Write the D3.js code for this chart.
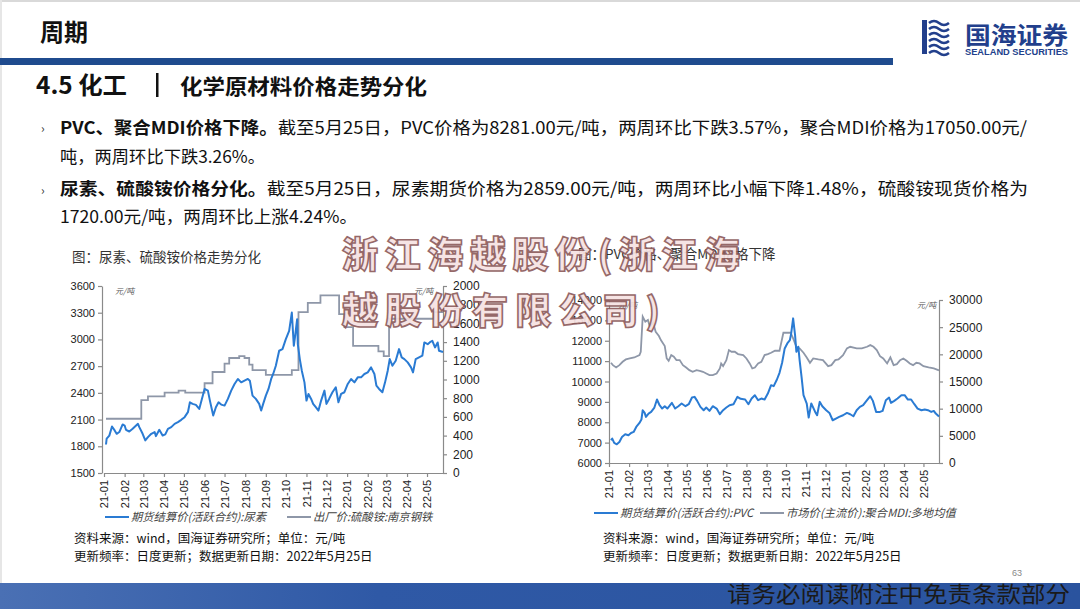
<!DOCTYPE html>
<html><head><meta charset="utf-8">
<script src="https://cdn.jsdelivr.net/npm/d3@7"></script>
<style>
html,body{margin:0;padding:0;background:#fff;}
svg{display:block;font-family:"Noto Sans CJK SC","Noto Sans",sans-serif;}
</style></head>
<body><svg id="c" width="1080" height="609"></svg>
<script>
// ---------- data ----------
const ureaDates = ["2021-01-04","2021-01-05","2021-01-09","2021-01-13","2021-01-17","2021-01-20","2021-01-24","2021-01-29","2021-02-01","2021-02-03","2021-02-08","2021-02-13","2021-02-21","2021-02-23","2021-02-28","2021-03-04","2021-03-08","2021-03-13","2021-03-18","2021-03-20","2021-03-25","2021-03-30","2021-04-03","2021-04-07","2021-04-12","2021-04-17","2021-04-22","2021-04-27","2021-05-02","2021-05-07","2021-05-10","2021-05-14","2021-05-19","2021-05-24","2021-05-28","2021-06-01","2021-06-06","2021-06-09","2021-06-14","2021-06-18","2021-06-22","2021-06-26","2021-07-01","2021-07-06","2021-07-11","2021-07-16","2021-07-21","2021-07-26","2021-07-31","2021-08-05","2021-08-08","2021-08-12","2021-08-17","2021-08-22","2021-08-25","2021-08-28","2021-09-01","2021-09-05","2021-09-09","2021-09-12","2021-09-16","2021-09-21","2021-09-26","2021-10-01","2021-10-06","2021-10-10","2021-10-13","2021-10-15","2021-10-18","2021-10-19","2021-10-22","2021-10-25","2021-10-29","2021-11-01","2021-11-04","2021-11-08","2021-11-11","2021-11-15","2021-11-19","2021-11-23","2021-11-28","2021-12-01","2021-12-05","2021-12-10","2021-12-15","2021-12-19","2021-12-23","2021-12-28","2022-01-02","2022-01-07","2022-01-12","2022-01-17","2022-01-22","2022-01-27","2022-02-01","2022-02-06","2022-02-11","2022-02-14","2022-02-18","2022-02-23","2022-02-27","2022-03-03","2022-03-06","2022-03-10","2022-03-15","2022-03-20","2022-03-24","2022-03-28","2022-04-02","2022-04-07","2022-04-10","2022-04-14","2022-04-19","2022-04-24","2022-04-27","2022-05-02","2022-05-05","2022-05-09","2022-05-13","2022-05-17","2022-05-19","2022-05-25"];
const ureaValues = [1820,1885,1920,2022,1978,1940,1960,2045,2033,1985,1966,1996,2052,2015,1940,1866,1903,1940,1960,1914,1985,1921,1933,1996,2015,2052,2071,2097,2127,2183,2294,2276,2265,2220,2332,2444,2425,2313,2145,2239,2294,2268,2257,2332,2425,2500,2556,2518,2537,2556,2537,2369,2332,2276,2201,2276,2369,2444,2556,2612,2705,2873,2891,3003,3097,3302,2929,3041,3227,2947,2779,2649,2518,2313,2388,2332,2276,2239,2201,2313,2425,2276,2332,2407,2463,2294,2388,2407,2500,2556,2518,2574,2574,2612,2630,2686,2612,2481,2444,2407,2518,2649,2779,2705,2761,2891,2798,2779,2742,2686,2630,2779,2798,2817,2966,2947,2966,2985,2910,2966,2873,2859];

const amsDates = ["2021-01-04","2021-02-26","2021-03-08","2021-04-02","2021-04-23","2021-05-03","2021-06-01","2021-06-13","2021-07-01","2021-07-08","2021-07-23","2021-07-31","2021-08-07","2021-08-12","2021-09-01","2021-10-10","2021-10-20","2021-11-03","2021-11-22","2021-12-20","2021-12-28","2022-01-10","2022-02-17","2022-02-25","2022-03-05","2022-05-11","2022-05-25"];
const amsValues = [580,780,820,860,880,860,960,1080,1170,1230,1250,1230,1160,1100,1050,1100,1720,1820,1900,1700,1560,1360,1300,1250,1650,1720,1720];

const pvcDates = ["2021-01-04","2021-01-06","2021-01-09","2021-01-13","2021-01-17","2021-01-21","2021-01-26","2021-01-31","2021-02-04","2021-02-08","2021-02-12","2021-02-17","2021-02-20","2021-02-22","2021-02-25","2021-02-27","2021-03-03","2021-03-07","2021-03-12","2021-03-16","2021-03-20","2021-03-24","2021-03-28","2021-04-01","2021-04-04","2021-04-08","2021-04-13","2021-04-18","2021-04-23","2021-04-29","2021-05-04","2021-05-09","2021-05-13","2021-05-17","2021-05-22","2021-05-27","2021-05-31","2021-06-05","2021-06-10","2021-06-16","2021-06-21","2021-06-26","2021-07-01","2021-07-06","2021-07-12","2021-07-18","2021-07-23","2021-07-30","2021-08-04","2021-08-09","2021-08-14","2021-08-19","2021-08-24","2021-08-29","2021-09-03","2021-09-08","2021-09-12","2021-09-17","2021-09-21","2021-09-25","2021-09-29","2021-10-03","2021-10-07","2021-10-09","2021-10-12","2021-10-15","2021-10-17","2021-10-20","2021-10-22","2021-10-25","2021-10-28","2021-11-02","2021-11-05","2021-11-09","2021-11-15","2021-11-18","2021-11-22","2021-11-26","2021-12-02","2021-12-07","2021-12-12","2021-12-17","2021-12-22","2021-12-28","2022-01-03","2022-01-08","2022-01-13","2022-01-18","2022-01-23","2022-01-28","2022-02-03","2022-02-08","2022-02-12","2022-02-17","2022-02-23","2022-02-27","2022-03-04","2022-03-09","2022-03-12","2022-03-17","2022-03-22","2022-03-28","2022-04-02","2022-04-07","2022-04-12","2022-04-17","2022-04-22","2022-04-28","2022-05-03","2022-05-08","2022-05-13","2022-05-17","2022-05-20","2022-05-25"];
const pvcValues = [7120,7197,6984,6918,7033,7279,7410,7361,7475,7525,7770,7967,8131,8590,8459,8262,8426,8508,8721,9115,8836,8672,8787,8672,8787,8951,8672,8787,8918,8787,8885,9213,9246,9049,8754,8590,8721,8557,8787,8672,8393,8590,8721,8836,8885,9246,9148,9115,8885,9164,9328,9082,9164,9115,9410,9820,9770,10098,10426,10918,11623,11869,12033,12361,13098,12279,11459,11705,11049,10230,9328,8918,8230,8918,8508,8344,9000,8787,8590,8459,8098,8180,8262,8344,8459,8393,8295,8590,8754,8836,9082,9279,9049,8508,8508,8557,9082,9213,8951,9049,9164,9328,9328,9115,9115,8885,8672,8590,8623,8590,8508,8557,8426,8281];

const mdiDates = ["2021-01-04","2021-01-07","2021-01-12","2021-01-17","2021-01-22","2021-01-27","2021-02-02","2021-02-09","2021-02-17","2021-02-19","2021-02-22","2021-02-26","2021-03-02","2021-03-05","2021-03-10","2021-03-14","2021-03-19","2021-03-22","2021-03-28","2021-03-31","2021-04-03","2021-04-07","2021-04-11","2021-04-15","2021-04-20","2021-04-25","2021-04-30","2021-05-05","2021-05-10","2021-05-16","2021-05-21","2021-05-26","2021-05-31","2021-06-05","2021-06-10","2021-06-16","2021-06-21","2021-06-23","2021-06-26","2021-07-01","2021-07-05","2021-07-09","2021-07-14","2021-07-19","2021-07-27","2021-08-01","2021-08-06","2021-08-10","2021-08-14","2021-08-19","2021-08-24","2021-08-29","2021-09-03","2021-09-08","2021-09-14","2021-09-21","2021-09-27","2021-10-08","2021-10-12","2021-10-17","2021-10-22","2021-10-28","2021-11-02","2021-11-07","2021-11-12","2021-11-20","2021-11-27","2021-12-05","2021-12-10","2021-12-16","2021-12-21","2021-12-28","2022-01-03","2022-01-08","2022-01-18","2022-01-26","2022-02-03","2022-02-08","2022-02-13","2022-02-18","2022-02-23","2022-02-28","2022-03-06","2022-03-11","2022-03-16","2022-03-21","2022-03-26","2022-03-31","2022-04-05","2022-04-10","2022-04-15","2022-04-20","2022-04-25","2022-05-01","2022-05-09","2022-05-17","2022-05-25"];
const mdiValues = [18444,18014,17583,18014,18628,19059,19243,19427,19858,20473,26928,26006,26313,25084,25822,24162,23362,22625,21518,19243,18813,19858,19550,18936,18936,18014,17583,17092,16784,17092,16969,16784,16477,16169,16169,16477,17399,18321,17829,18936,20780,20473,20473,20043,19858,19243,18321,17399,17583,18321,18628,19858,20043,20289,20657,20657,23977,23977,22932,21395,21088,20289,19427,18444,19243,19059,18936,17829,18014,18936,19059,19858,21088,21395,21088,21088,21395,21702,21395,20780,19673,19243,18321,19427,18014,18198,18936,19243,18813,18321,18014,18444,18321,17829,17583,17399,17050];

const ureaLeftTicks = [1500,1800,2100,2400,2700,3000,3300,3600];
const amsRightTicks = [0,200,400,600,800,1000,1200,1400,1600,1800,2000];
const pvcLeftTicks = [6000,7000,8000,9000,10000,11000,12000,13000,14000];
const mdiRightTicks = [0,5000,10000,15000,20000,25000,30000];

const legendLeft = ["期货结算价(活跃合约):尿素","出厂价:硫酸铵:南京钢铁"];
const legendRight = ["期货结算价(活跃合约):PVC","市场价(主流价):聚合MDI:多地均值"];
const chartTitles = ["图：尿素、硫酸铵价格走势分化","图：PVC价格、聚合MDI价格下降"];
const sourceLines = ["资料来源：wind，国海证券研究所；单位：元/吨","更新频率：日度更新；数据更新日期：2022年5月25日"];

// ---------- drawing ----------
const svg = d3.select("#c");
const parse = d3.timeParse("%Y-%m-%d");
const BLUE = "#2a7bd3", GRAY = "#8e97a8", AX = "#8a8a8a";
const tickFont = "Liberation Sans, Arial, sans-serif";

const defs = svg.append("defs");
const fg = defs.append("linearGradient").attr("id","foot").attr("x1","0").attr("x2","1").attr("y1","0").attr("y2","0");
fg.append("stop").attr("offset","0").attr("stop-color","#4a70b4");
fg.append("stop").attr("offset","0.35").attr("stop-color","#2f59a6");
fg.append("stop").attr("offset","1").attr("stop-color","#2a539e");

// top thin border
svg.append("rect").attr("x",0).attr("y",0).attr("width",1080).attr("height",2).attr("fill","#d9d9d9");
svg.append("rect").attr("x",0).attr("y",0).attr("width",2).attr("height",609).attr("fill","#e6e6e6");

// header
svg.append("text").attr("x",40).attr("y",41).attr("font-size",24).attr("font-weight",700).attr("fill","#111").text("周期");
svg.append("rect").attr("x",0).attr("y",58).attr("width",893).attr("height",7).attr("fill","#1f4b8e");

// logo
const logo = svg.append("g").attr("transform","translate(922,20)");
logo.append("rect").attr("x",0).attr("y",0).attr("width",5).attr("height",34).attr("fill","#223f8c");
[0,6,12,18,24,30].forEach((yy,i)=>{
  logo.append("path").attr("d",`M7,${yy+3} q5,-4 10,0 t10,0`).attr("fill","none").attr("stroke","#223f8c").attr("stroke-width",2.6);
});
logo.append("text").attr("x",43).attr("y",24).attr("font-size",24).attr("font-weight",700).attr("fill","#223f8c")
  .attr("textLength",103).attr("lengthAdjust","spacingAndGlyphs").text("国海证券");
logo.append("text").attr("x",43).attr("y",35).attr("font-size",9).attr("font-weight",700).attr("fill","#223f8c").attr("font-family","Liberation Sans, Arial")
  .attr("textLength",103).attr("lengthAdjust","spacingAndGlyphs").text("SEALAND SECURITIES");

// section title
svg.append("text").attr("x",36).attr("y",94).attr("font-size",24).attr("font-weight",700).attr("fill","#111")
  .attr("textLength",91).attr("lengthAdjust","spacingAndGlyphs").text("4.5 化工");
svg.append("rect").attr("x",156).attr("y",73).attr("width",2.5).attr("height",24).attr("fill","#111");
svg.append("text").attr("x",180).attr("y",94).attr("font-size",21).attr("font-weight",700).attr("fill","#111")
  .attr("textLength",247).attr("lengthAdjust","spacingAndGlyphs").text("化学原材料价格走势分化");

// bullets
function para(y, parts, len){
  const t = svg.append("text").attr("x",60).attr("y",y).attr("font-size",17.2).attr("fill","#111");
  if(len) t.attr("textLength",len).attr("lengthAdjust","spacingAndGlyphs");
  parts.forEach(p=>t.append("tspan").attr("font-weight",p[1]?700:400).text(p[0]));
  return t;
}
svg.append("text").attr("x",41).attr("y",133).attr("font-size",12).attr("fill","#333").text("›");
svg.append("text").attr("x",41).attr("y",195).attr("font-size",12).attr("fill","#333").text("›");
para(134,[["PVC、聚合MDI价格下降。",1],["截至5月25日，PVC价格为8281.00元/吨，两周环比下跌3.57%，聚合MDI价格为17050.00元/",0]],967);
para(163,[["吨，两周环比下跌3.26%。",0]],205);
para(195,[["尿素、硫酸铵价格分化。",1],["截至5月25日，尿素期货价格为2859.00元/吨，两周环比小幅下降1.48%，硫酸铵现货价格为",0]],968);
para(223,[["1720.00元/吨，两周环比上涨4.24%。",0]],297);

// chart helper
function drawChart(cfg){
  const g = svg.append("g");
  g.append("text").attr("x",cfg.titleX).attr("y",cfg.titleY).attr("font-size",13.5).attr("fill","#333").text(cfg.title);
  const x = d3.scaleTime().domain([parse("2021-01-01"),parse("2022-05-25")]).range([cfg.x0,cfg.x1]);
  const yL = d3.scaleLinear().domain([cfg.lTicks[0],cfg.lTicks[cfg.lTicks.length-1]]).range([cfg.yb,cfg.yt]);
  const yR = d3.scaleLinear().domain([cfg.rTicks[0],cfg.rTicks[cfg.rTicks.length-1]]).range([cfg.yb,cfg.yt]);

  const ax = g.append("g").attr("transform",`translate(0,${cfg.yb})`)
    .call(d3.axisBottom(x).ticks(d3.timeMonth.every(1)).tickFormat(d3.timeFormat("%y-%m")).tickSize(4).tickSizeOuter(0));
  ax.selectAll("text").attr("transform","rotate(-90)").attr("x",-7).attr("y",0).attr("dy","0.35em")
    .style("text-anchor","end").attr("font-size",11).attr("font-family",tickFont).attr("fill","#222");
  const al = g.append("g").attr("transform",`translate(${cfg.axL},0)`)
    .call(d3.axisLeft(yL).tickValues(cfg.lTicks).tickFormat(d3.format("d")).tickSize(4).tickSizeOuter(0));
  al.selectAll("text").attr("font-size",11).attr("font-family",tickFont).attr("fill","#222").attr("x",-7);
  const ar = g.append("g").attr("transform",`translate(${cfg.axR},0)`)
    .call(d3.axisRight(yR).tickValues(cfg.rTicks).tickFormat(d3.format("d")).tickSize(4).tickSizeOuter(0));
  ar.selectAll("text").attr("font-size",12).attr("font-family",tickFont).attr("fill","#222").attr("x",10);
  [ax,al,ar].forEach(a=>{a.selectAll("path,line").attr("stroke",AX).attr("stroke-width",1.2);});

  // units
  g.append("text").attr("x",cfg.uL).attr("y",cfg.yt+8).attr("font-size",8).attr("fill","#555").attr("font-style","italic").text("元/吨");
  g.append("text").attr("x",cfg.uR).attr("y",cfg.yt+8).attr("font-size",8).attr("fill","#555").attr("font-style","italic").text("元/吨");

  const rData = cfg.rDates.map((d,i)=>({d:parse(d),v:cfg.rVals[i]}));
  g.append("path").datum(rData).attr("fill","none").attr("stroke",GRAY).attr("stroke-width",1.8)
    .attr("d",d3.line().x(p=>x(p.d)).y(p=>yR(p.v)).curve(cfg.step?d3.curveStepAfter:d3.curveLinear));
  const lData = cfg.lDates.map((d,i)=>({d:parse(d),v:cfg.lVals[i]}));
  g.append("path").datum(lData).attr("fill","none").attr("stroke",BLUE).attr("stroke-width",2)
    .attr("stroke-linejoin","round").attr("d",d3.line().x(p=>x(p.d)).y(p=>yL(p.v)));

  // legend
  const lg = g.append("g");
  lg.append("line").attr("x1",cfg.lg[0]).attr("x2",cfg.lg[0]+24).attr("y1",cfg.lgY).attr("y2",cfg.lgY).attr("stroke",BLUE).attr("stroke-width",2);
  lg.append("text").attr("x",cfg.lg[0]+26).attr("y",cfg.lgY+4).attr("font-size",11.3).attr("fill","#444").attr("font-style","italic").text(cfg.legend[0]);
  lg.append("line").attr("x1",cfg.lg[1]).attr("x2",cfg.lg[1]+24).attr("y1",cfg.lgY).attr("y2",cfg.lgY).attr("stroke",GRAY).attr("stroke-width",2);
  lg.append("text").attr("x",cfg.lg[1]+26).attr("y",cfg.lgY+4).attr("font-size",11.3).attr("fill","#444").attr("font-style","italic").text(cfg.legend[1]);

  // source
  sourceLines.forEach((s,i)=>g.append("text").attr("x",cfg.srcX).attr("y",543+i*18).attr("font-size",12.5).attr("fill","#111").text(s));
}

drawChart({title:chartTitles[0],titleX:72,titleY:262,x0:104,x1:443,yb:473,yt:286,axL:102,axR:443,
  lTicks:ureaLeftTicks,rTicks:amsRightTicks,lDates:ureaDates,lVals:ureaValues,rDates:amsDates,rVals:amsValues,step:true,
  uL:115,uR:414,legend:legendLeft,lg:[105,287],lgY:517,srcX:74});
drawChart({title:chartTitles[1],titleX:578,titleY:259,x0:609,x1:939,yb:463,yt:300,axL:609,axR:939,
  lTicks:pvcLeftTicks,rTicks:mdiRightTicks,lDates:pvcDates,lVals:pvcValues,rDates:mdiDates,rVals:mdiValues,step:false,
  uL:618,uR:917,legend:legendRight,lg:[594,760],lgY:513,srcX:603});

// footer
svg.append("rect").attr("x",0).attr("y",583).attr("width",1080).attr("height",26).attr("fill","url(#foot)");
svg.append("text").attr("x",1012).attr("y",576).attr("font-size",9).attr("fill","#888").attr("font-family",tickFont).text("63");
svg.append("text").attr("x",727).attr("y",602).attr("font-size",22).attr("fill","#1a1a1a")
  .attr("textLength",343).attr("lengthAdjust","spacingAndGlyphs").text("请务必阅读附注中免责条款部分");

// watermark
const wm = svg.append("g").attr("font-size",36).attr("font-weight",900).attr("fill","#f6e2e2").attr("stroke","#8e5c5c").attr("stroke-width",1.6).attr("opacity",0.92);
wm.append("text").attr("x",342).attr("y",268).attr("textLength",398).attr("lengthAdjust","spacing").text("浙江海越股份(浙江海");
wm.append("text").attr("x",342).attr("y",324).attr("textLength",318).attr("lengthAdjust","spacing").text("越股份有限公司)");
</script></body></html>
